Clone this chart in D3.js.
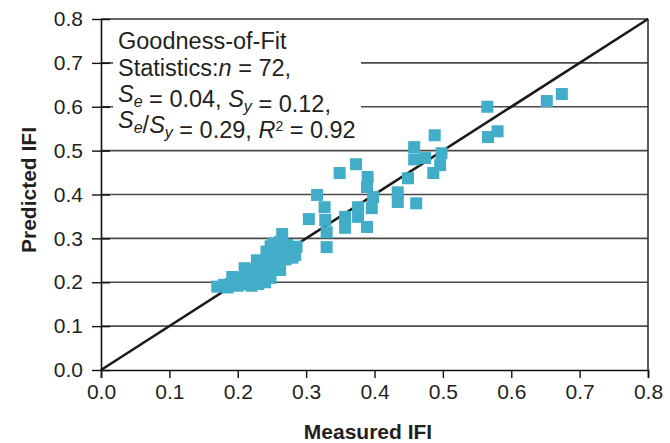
<!DOCTYPE html>
<html>
<head>
<meta charset="utf-8">
<script src="https://cdn.jsdelivr.net/npm/d3@7/dist/d3.min.js"></script>
<style>
  html, body { margin: 0; padding: 0; background: #fff; }
  svg { display: block; font-family: "Liberation Sans", Arial, sans-serif; }
</style>
</head>
<body>
<svg id="chart" width="670" height="443"></svg>
<script>
// ---- data ----
const measured = [
  // low cluster
  0.265,
  0.252,0.262,0.272,0.286,0.248,
  0.242,0.252,0.262,0.274,0.284,
  0.228,0.238,0.248,0.258,0.270,0.280,
  0.210,0.220,0.232,0.242,0.252,0.262,
  0.192,0.202,0.214,0.224,0.236,0.248,
  0.170,0.180,0.190,0.200,0.210,0.220,0.230,0.240,
  0.185,0.225,
  // middle
  0.316,0.304,0.327,0.328,0.330,0.330,0.349,0.357,0.357,0.373,0.376,0.376,0.390,0.389,0.398,0.396,0.389,
  // upper middle
  0.434,0.434,0.449,0.461,0.458,0.458,0.474,0.488,0.498,0.496,0.486,
  // high
  0.565,0.566,0.580,0.652,0.674
];
const predicted = [
  0.310,
  0.288,0.292,0.285,0.281,0.282,
  0.270,0.266,0.272,0.268,0.262,
  0.250,0.246,0.252,0.248,0.252,0.256,
  0.232,0.228,0.234,0.230,0.234,0.228,
  0.212,0.208,0.214,0.210,0.212,0.210,
  0.190,0.194,0.196,0.192,0.196,0.192,0.196,0.200,
  0.188,0.200,
  0.399,0.344,0.371,0.342,0.314,0.280,0.449,0.349,0.324,0.469,0.371,0.349,0.440,0.417,0.394,0.369,0.326,
  0.405,0.383,0.437,0.380,0.508,0.480,0.483,0.535,0.494,0.467,0.449,
  0.600,0.531,0.544,0.613,0.629
];
const xTicks = [0.0,0.1,0.2,0.3,0.4,0.5,0.6,0.7,0.8];
const yTicks = [0.0,0.1,0.2,0.3,0.4,0.5,0.6,0.7,0.8];
const gridValues = [0.1,0.2,0.3,0.4,0.5,0.6,0.7];
const xTitle = "Measured IFI";
const yTitle = "Predicted IFI";

// ---- layout ----
const svg = d3.select("#chart");
const x = d3.scaleLinear().domain([0, 0.8]).range([101, 648]);
const y = d3.scaleLinear().domain([0, 0.8]).range([370, 19]);
const textColor = "#231f20";
const fs = 21;

// gridlines
svg.append("g").selectAll("line").data(gridValues).join("line")
  .attr("x1", x(0)).attr("x2", x(0.8))
  .attr("y1", d => y(d)).attr("y2", d => y(d))
  .attr("stroke", "#4a4a4a").attr("stroke-width", 1.6);

// top and right borders
svg.append("line").attr("x1", x(0)).attr("x2", x(0.8)).attr("y1", y(0.8)).attr("y2", y(0.8))
  .attr("stroke", "#333").attr("stroke-width", 1.6);
svg.append("line").attr("x1", x(0.8)).attr("x2", x(0.8)).attr("y1", y(0.8)).attr("y2", y(0))
  .attr("stroke", "#333").attr("stroke-width", 1.6);

// text box (white background hiding gridlines)
svg.append("rect").attr("x", 113).attr("y", 24).attr("width", 248).attr("height", 121).attr("fill", "#fff");

// 1:1 line
svg.append("line").attr("x1", x(0)).attr("y1", y(0)).attr("x2", x(0.8)).attr("y2", y(0.8))
  .attr("stroke", "#1a1a1a").attr("stroke-width", 2.6);

// points
const pts = measured.map((m, i) => ({m, p: predicted[i]}));
const s = 12;
svg.append("g").selectAll("rect").data(pts).join("rect")
  .attr("x", d => x(d.m) - s/2).attr("y", d => y(d.p) - s/2)
  .attr("width", s).attr("height", s)
  .attr("fill", "#41adc9");

// axes
const xAxis = d3.axisBottom(x).tickValues(xTicks).tickFormat(d3.format(".1f")).tickSize(8).tickPadding(6);
const gx = svg.append("g").attr("transform", `translate(0,${y(0)})`).call(xAxis);
gx.select(".domain").attr("stroke", "#111").attr("stroke-width", 1.6);
gx.selectAll(".tick line").attr("stroke", "#111").attr("stroke-width", 1.4);
gx.selectAll(".tick text").attr("font-size", fs).attr("fill", textColor).attr("font-family", "Liberation Sans, Arial, sans-serif");

const yAxis = d3.axisLeft(y).tickValues(yTicks).tickFormat(d3.format(".1f")).tickSizeInner(9).tickSizeOuter(0).tickPadding(9);
const gy = svg.append("g").attr("transform", `translate(${x(0)},0)`).call(yAxis);
gy.select(".domain").attr("stroke", "#111").attr("stroke-width", 1.6);
gy.selectAll(".tick line").attr("stroke", "#111").attr("stroke-width", 1.4).attr("x2", 9).attr("x1", -9);
gy.selectAll(".tick text").attr("font-size", fs).attr("fill", textColor).attr("font-family", "Liberation Sans, Arial, sans-serif");

// axis titles
svg.append("text").attr("x", 368).attr("y", 439).attr("text-anchor", "middle")
  .attr("font-size", 21).attr("font-weight", "bold").attr("fill", textColor).text(xTitle);
svg.append("text").attr("transform", "translate(36,190) rotate(-90)").attr("text-anchor", "middle")
  .attr("font-size", 21).attr("font-weight", "bold").attr("fill", textColor).text(yTitle);

// statistics text
const tfs = 23.5;
const lx = 118;
const t = svg.append("g").attr("font-size", tfs).attr("fill", textColor);
t.append("text").attr("x", lx).attr("y", 49).text("Goodness-of-Fit");
const l2 = t.append("text").attr("x", lx).attr("y", 76);
l2.append("tspan").text("Statistics:");
l2.append("tspan").attr("font-style", "italic").text("n");
l2.append("tspan").text(" = 72,");

function sub(el, main, s) {
  el.append("tspan").attr("font-style", "italic").text(main);
  el.append("tspan").attr("font-style", "italic").attr("font-size", 16).attr("dy", 5).text(s);
  el.append("tspan").attr("dy", -5).text("");
}
const l3 = t.append("text").attr("x", lx).attr("y", 102);
sub(l3, "S", "e");
l3.append("tspan").text(" = 0.04, ");
sub(l3, "S", "y");
l3.append("tspan").text(" = 0.12,");

const l4 = t.append("text").attr("x", lx).attr("y", 128);
sub(l4, "S", "e");
l4.append("tspan").text("/");
sub(l4, "S", "y");
l4.append("tspan").text(" = 0.29, ");
l4.append("tspan").attr("font-style", "italic").text("R");
l4.append("tspan").attr("font-size", 14).attr("dy", -7).text("2");
l4.append("tspan").attr("dy", 7).text(" = 0.92");
</script>
</body>
</html>
